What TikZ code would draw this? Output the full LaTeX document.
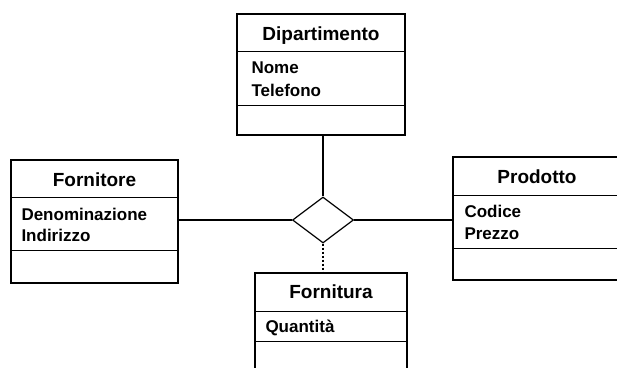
\documentclass[tikz,border=0pt]{standalone}
\usepackage{fontspec}
\setmainfont{Liberation Sans}
\usetikzlibrary{shapes.geometric,calc}

\tikzset{
  classbox/.style={draw, line width=1.4pt, inner sep=0pt, fill=white},
  divider/.style={line width=1.3pt},
  classname/.style={anchor=base, inner sep=0pt, font=\bfseries\fontsize{19}{22}\selectfont},
  attr/.style={anchor=base west, inner sep=0pt, font=\bfseries\fontsize{17}{22}\selectfont},
  assoc/.style={draw, diamond, line width=1.2pt, inner sep=0pt, aspect=1.33,
    minimum width=61pt, minimum height=46pt},
  link/.style={line width=1.2pt},
  classlink/.style={line width=1.3pt, dash pattern=on 2pt off 2pt},
}

\begin{document}
\begin{tikzpicture}[x=1pt, y=-1pt]
  \clip (0,0) rectangle (617,367);

  % association diamond
  \node[assoc] (dia) at (323,220) {};

  % Dipartimento
  \node[classbox, minimum width=168pt, minimum height=121pt] (dip) at (321,74.5) {};
  \draw[divider] ($(dip.north west)+(0,38)$) -- ($(dip.north east)+(0,38)$);
  \draw[divider] ($(dip.north west)+(0,92)$) -- ($(dip.north east)+(0,92)$);
  \node[classname] (dipname) at ($(dip.north)+(0,27)$) {Dipartimento};
  \node[attr] (dipa1) at ($(dip.north west)+(15,60)$) {Nome};
  \node[attr] (dipa2) at ($(dip.north west)+(15,83)$) {Telefono};

  % Fornitore
  \node[classbox, minimum width=167pt, minimum height=123pt] (forn) at (94.5,221.5) {};
  \draw[divider] ($(forn.north west)+(0,38)$) -- ($(forn.north east)+(0,38)$);
  \draw[divider] ($(forn.north west)+(0,91)$) -- ($(forn.north east)+(0,91)$);
  \node[classname] (fornname) at ($(forn.north)+(0,27)$) {Fornitore};
  \node[attr] (forna1) at ($(forn.north west)+(11,61)$) {Denominazione};
  \node[attr] (forna2) at ($(forn.north west)+(11,82)$) {Indirizzo};

  % Prodotto
  \node[classbox, minimum width=168pt, minimum height=123pt] (prod) at (537,218.5) {};
  \draw[divider] ($(prod.north west)+(0,39)$) -- ($(prod.north east)+(0,39)$);
  \draw[divider] ($(prod.north west)+(0,92)$) -- ($(prod.north east)+(0,92)$);
  \node[classname] (prodname) at ($(prod.north)+(0,27)$) {Prodotto};
  \node[attr] (proda1) at ($(prod.north west)+(12,61)$) {Codice};
  \node[attr] (proda2) at ($(prod.north west)+(12,83)$) {Prezzo};

  % Fornitura (association class)
  \node[classbox, minimum width=152pt, minimum height=107pt] (fura) at (331,326.5) {};
  \draw[divider] ($(fura.north west)+(0,39)$) -- ($(fura.north east)+(0,39)$);
  \draw[divider] ($(fura.north west)+(0,69)$) -- ($(fura.north east)+(0,69)$);
  \node[classname] (furaname) at ($(fura.north)+(0,26)$) {Fornitura};
  \node[attr] (furaa1) at ($(fura.north west)+(11,60)$) {Quantità};

  % connectors
  \draw[link] (forn.east |- dia.west) -- (dia.west);
  \draw[link] (dia.east) -- (dia.east -| prod.west);
  \draw[link] (dia.north |- dip.south) -- (dia.north);
  \draw[classlink] (dia.south) -- (dia.south |- fura.north);
\end{tikzpicture}
\end{document}
